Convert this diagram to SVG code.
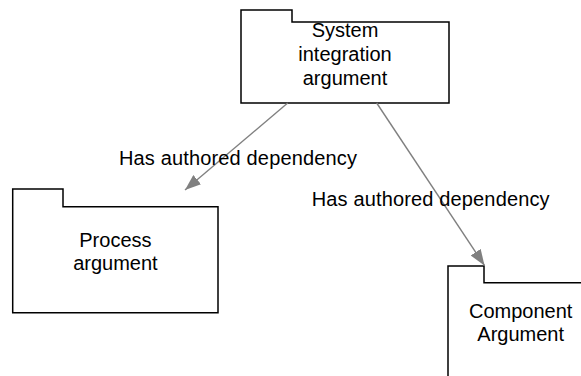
<svg xmlns="http://www.w3.org/2000/svg" width="581" height="376" viewBox="0 0 581 376">
<style>
.node{fill:#fff;stroke:#000;stroke-width:1.5}
.t{font-family:"Liberation Sans",Arial,sans-serif;font-size:20px;fill:#000;text-anchor:middle}
.lbl{font-family:"Liberation Sans",Arial,sans-serif;font-size:20px;fill:#000;letter-spacing:0.15px}
.edge{stroke:#808080;stroke-width:1.4;fill:none}
</style>
<defs>
<marker id="arr" viewBox="0 0 16 12" refX="16" refY="6" markerWidth="16" markerHeight="12" orient="auto" markerUnits="userSpaceOnUse">
<path d="M0,0 L16,6 L0,12 Z" fill="#808080"/>
</marker>
</defs>
<rect width="581" height="376" fill="#fff"/>
<g id="system-integration">
<path class="node" d="M241,103 V10 H292 V22 H449 V103 Z"/>
<text class="t" x="345" y="37" font-size="19">System</text>
<text class="t" x="345" y="61" font-size="19">integration</text>
<text class="t" x="345" y="84.5" font-size="19">argument</text>
</g>
<g id="process">
<path class="node" d="M12.7,312.7 V189 H63 V206.7 H218 V312.7 Z"/>
<text class="t" x="115.4" y="247">Process</text>
<text class="t" x="115.4" y="270">argument</text>
</g>
<g id="component">
<path class="node" d="M448,390 V266 H484 V282.7 H600 V390 Z"/>
<text class="t" x="520.7" y="318">Component</text>
<text class="t" x="520.7" y="341">Argument</text>
</g>
<g id="connectors">
<line class="edge" x1="287.7" y1="103" x2="185" y2="190" marker-end="url(#arr)"/>
<text class="lbl" x="119" y="165">Has authored dependency</text>
<line class="edge" x1="376.7" y1="103" x2="484.5" y2="265.5" marker-end="url(#arr)"/>
<text class="lbl" x="311.7" y="205.7">Has authored dependency</text>
</g>
</svg>
